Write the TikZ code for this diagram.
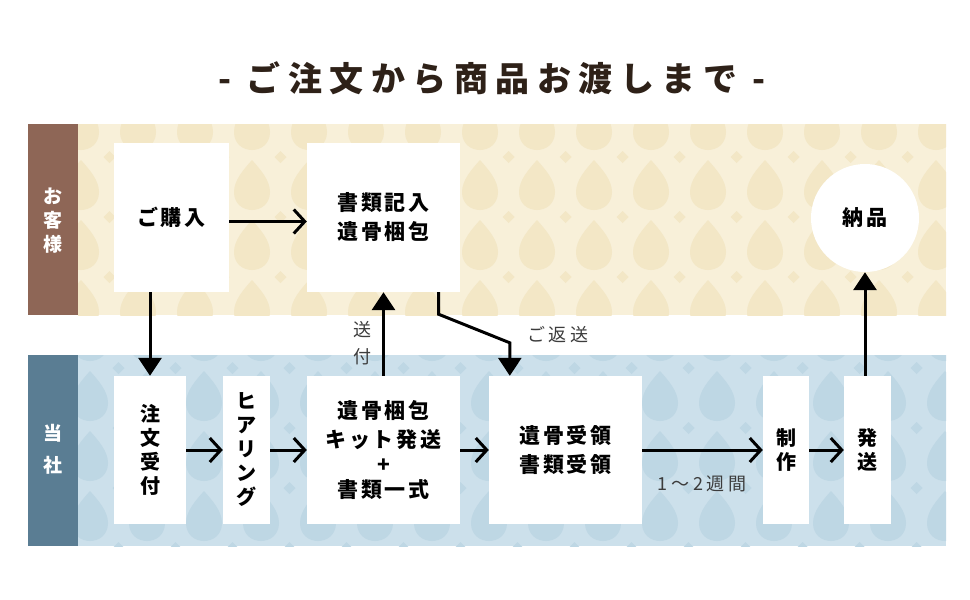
\documentclass[tikz,border=0pt]{standalone}
\usepackage{fontspec}
\newfontfamily\jp{Noto Sans CJK JP}
\newfontfamily\jplbl{Noto Sans CJK JP}[LetterSpace=22]
\newfontfamily\jpsp{Noto Sans CJK JP}[LetterSpace=14]
\newfontfamily\jptitle{Noto Sans CJK JP}[LetterSpace=22]
\usetikzlibrary{arrows.meta}
\definecolor{beigebg}{HTML}{F3E7C6}
\definecolor{beigelt}{HTML}{F8F0D9}
\definecolor{brownside}{HTML}{8E6656}
\definecolor{bluebg}{HTML}{BED7E4}
\definecolor{bluelt}{HTML}{CCE0EB}
\definecolor{blueside}{HTML}{5A7D93}
\definecolor{titlec}{HTML}{2E2118}
\definecolor{labelgray}{HTML}{3C3C3C}
\begin{document}
\begin{tikzpicture}[x=1pt,y=-1pt,
  stepbox/.style={fill=white, draw=none, inner sep=0pt, font=\jpsp\bfseries\fontsize{21}{29}\selectfont, align=center, text=black},
  vbox/.style={stepbox, font=\jp\bfseries\fontsize{20}{24}\selectfont},
  flow/.style={line width=3pt, -{Straight Barb[length=11pt,width=24pt]}},
  push/.style={line width=3pt, -{Triangle[length=18pt,width=23pt]}},
  lbl/.style={font=\jplbl\fontsize{18}{27}\selectfont, text=labelgray, align=center},
  side/.style={font=\jp\bfseries\fontsize{19}{24}\selectfont, text=white, align=center}]
\fill[white] (0,0) rectangle (970,600);
\useasboundingbox (0,0) rectangle (970,600);
% bands with faint damask-like lattice (drop-shaped cells, light strands)
\fill[beigelt] (78,124) rectangle (946,315);
\begin{scope}
  \clip (78,124) rectangle (946,315);
  \foreach \i in {-8,...,8} {
    \foreach \j in {-2,...,2} {
      \fill[beigebg, shift={(537+57*\i,187+60*\j)}] (0,-27) .. controls (8,-18) and (18,-7) .. (18,5) .. controls (18,17) and (9,23) .. (0,23) .. controls (-9,23) and (-18,17) .. (-18,5) .. controls (-18,-7) and (-8,-18) .. cycle;
      \fill[beigebg, shift={(537+57*\i+28.5,187+60*\j+30)}] (0,-6) -- (6,0) -- (0,6) -- (-6,0) -- cycle;
    }
  }
\end{scope}
\fill[brownside] (28,124) rectangle (78,315);
\fill[bluelt] (78,355) rectangle (946,546);
\begin{scope}
  \clip (78,355) rectangle (946,546);
  \foreach \i in {-11,...,6} {
    \foreach \j in {-1,...,3} {
      \fill[bluebg, shift={(660+57*\i,398+60*\j)}] (0,-27) .. controls (8,-18) and (18,-7) .. (18,5) .. controls (18,17) and (9,23) .. (0,23) .. controls (-9,23) and (-18,17) .. (-18,5) .. controls (-18,-7) and (-8,-18) .. cycle;
      \fill[bluebg, shift={(660+57*\i+28.5,398+60*\j+30)}] (0,-6) -- (6,0) -- (0,6) -- (-6,0) -- cycle;
    }
  }
\end{scope}
\fill[blueside] (28,355) rectangle (78,546);
% title
\node[font=\jptitle\bfseries\fontsize{34}{34}\selectfont, text=titlec] (title) at (492,78) {- ご注文から商品お渡しまで -};
% side labels
\node[side] (cust) at (53,221) {お\\客\\様};
\node[side, font=\jp\bfseries\fontsize{19}{32}\selectfont] (comp) at (53,449) {当\\社};
% top row
\node[stepbox, minimum width=115pt, minimum height=149pt] (kounyu) at (171.5,217.5) {ご購入};
\node[stepbox, minimum width=153pt, minimum height=149pt] (shorui) at (383.5,217.5) {書類記入\\遺骨梱包};
\node[stepbox, circle, minimum size=108pt] (nohin) at (865,218) {納品};
% bottom row
\node[vbox, minimum width=72pt, minimum height=148pt] (chumon) at (150,450) {注\\文\\受\\付};
\node[vbox, minimum width=47pt, minimum height=148pt] (hearing) at (246.5,450) {ヒ\\ア\\リ\\ン\\グ};
\node[stepbox, minimum width=153pt, minimum height=148pt] (kit) at (383.5,450) {遺骨梱包\\キット発送\\[-4pt]+\\[-4pt]書類一式};
\node[stepbox, minimum width=153pt, minimum height=148pt] (juryo) at (565.5,450) {遺骨受領\\書類受領};
\node[vbox, minimum width=46pt, minimum height=148pt] (seisaku) at (786,450) {制\\作};
\node[vbox, minimum width=47pt, minimum height=148pt] (hasso) at (867.5,450) {発\\送};
% connectors
\draw[flow] ([yshift=-4pt]kounyu.east) -- ([yshift=-4pt]shorui.west);
\draw[push] (kounyu.south -| chumon.north) -- (chumon.north);
\draw[push] (kit.north) -- (shorui.south);
\draw[push] ([xshift=55pt]shorui.south) -- ++(0,22) -- ([xshift=21pt,yshift=33pt]juryo.north west) -- ([xshift=21pt]juryo.north west);
\draw[flow] (chumon.east) -- (hearing.west);
\draw[flow] (hearing.east) -- (kit.west);
\draw[flow] (kit.east) -- (juryo.west);
\draw[flow] (juryo.east) -- (seisaku.west);
\draw[flow] (seisaku.east) -- (hasso.west);
\draw[push] (hasso.north -| nohin.south) -- (nohin.south);
% labels
\node[lbl] (soufu) at (362,343) {送\\付};
\node[lbl] (henso) at (558,335) {ご返送};
\node[lbl] (weeks) at (702,484) {1〜2週間};
\end{tikzpicture}
\end{document}
